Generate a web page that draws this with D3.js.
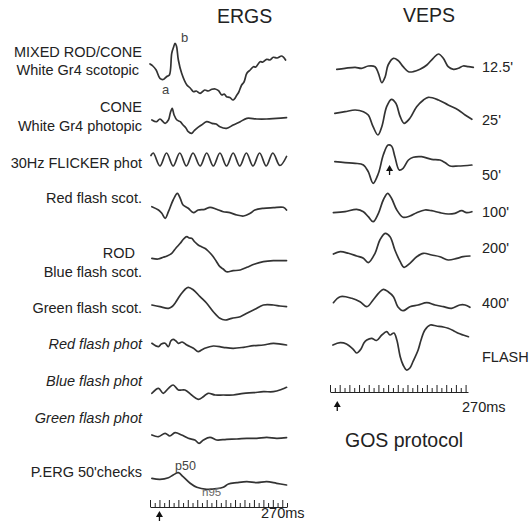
<!DOCTYPE html>
<html><head><meta charset="utf-8">
<script src="https://cdn.jsdelivr.net/npm/d3@7/dist/d3.min.js"></script>
<style>
html,body{margin:0;padding:0;background:#fff;}
svg{display:block;font-family:"Liberation Sans",Arial,Helvetica,sans-serif;}
</style></head>
<body>
<svg id="chart" width="530" height="521"></svg>
<script>
// ---------- DATA: [time ms, amplitude] ----------
const ergMixed = [[-20,0],[-14,-2],[-7,-6],[1,-14.3],[8,-15.5],[15,-12.7],[21,-11],[26,10.7],[30,17],[33,20.7],[36,18],[40,4],[47,-9.3],[58,-21],[65,-24],[72,-27.7],[78,-27],[86,-29.3],[96,-26],[103,-27],[111,-25.3],[118,-25],[125,-26.7],[132,-31],[137,-30],[142,-32.7],[149,-33.5],[156,-36],[164,-31],[168,-28],[174,-21],[179,-18],[185,-9.3],[192,-6],[199,-2.7],[204,-3],[213,2.3],[219,2],[227,4.7],[234,4],[241,6.7],[249,6],[259,8],[267,4]];
const ergCone = [[-16,0],[-6,-1.7],[1,1],[12,-3.3],[19,0],[23,7],[27,11.7],[31,5],[37,0],[44,-1.7],[50,-5],[56,-8],[61,-11.7],[68,-13.3],[73,-11],[79,-8.3],[89,-5],[100,-1.7],[111,-3.3],[120,-4],[128,-6.7],[142,-8.3],[156,-5],[171,-1.7],[185,1.7],[206,1],[227,1],[248,1.7],[269,2.3]];
const ergFlicker = [[-18,4],[-13,6.5],[1,-6.5],[15,6.5],[29,-6.5],[43,6.5],[57,-6.5],[71,6.5],[86,-6.5],[100,6.5],[114,-6.5],[128,6.5],[142,-6.5],[156,6.5],[170,-6.5],[184,6.5],[198,-6.5],[212,6.5],[226,-6.5],[240,6.5],[255,-6],[269,3]];
const ergRedScot = [[-16,0.3],[-2,-3],[5,-6.3],[12,-11.3],[19,-4.7],[29,7],[38,13.7],[44,8.7],[50,2],[61,-1.3],[72,-5.7],[82,-3],[96,-2.3],[107,-0.3],[121,-2.3],[135,-4.7],[149,-5.7],[164,-8],[178,-9],[192,-6.3],[202,-3],[220,-1.3],[241,-0.7],[262,-0.3],[269,-3]];
const ergBlueScot = [[-16,-0.3],[-3,-1],[8,0.7],[16,2],[26,4.7],[35,10],[44,14.7],[51,19],[58,21.3],[63,20],[68,19.7],[75,16],[82,13],[90,11],[96,9.7],[103,7],[111,3],[120,-3],[128,-8.7],[135,-11],[142,-13.7],[156,-12.7],[171,-12],[185,-9.3],[202,-6],[220,-3.7],[241,-2.7],[269,-2.7]];
const ergGreenScot = [[-16,1],[1,-0.7],[19,-2.3],[27,-0.5],[33,2.7],[40,8],[47,12.7],[54,16.5],[61,18.7],[72,16],[86,9.3],[100,2.7],[114,-5.7],[128,-12.3],[139,-14],[153,-12.3],[171,-10.7],[185,-7.3],[202,-3.3],[220,1],[241,1],[255,0],[269,-0.7]];
const ergRedPhot = [[-16,0.7],[-2,-2.7],[4,0],[12,0.7],[19,-2.7],[24,3],[29,4.7],[35,3],[40,0.7],[48,2],[58,-1],[72,-4.3],[82,-7.7],[89,-6],[96,-4.3],[114,-2],[135,-3.3],[156,-4.3],[178,-3.3],[199,-1.7],[220,-1],[241,0.7],[269,-1]];
const ergBluePhot = [[-16,-1.3],[-2,3.7],[8,-1.3],[19,3.7],[29,7],[40,2],[54,2],[68,-3],[82,-7.3],[93,-4.7],[103,-1.3],[118,-3],[135,-3],[156,-3],[178,-1.3],[199,-0.7],[220,0.3],[241,0.3],[259,2.7],[269,4.7]];
const ergGreenPhot = [[-16,1],[-2,-0.7],[12,2.7],[22,0],[33,3.3],[47,1],[61,-2.3],[75,-4],[84,-7.3],[93,-4],[107,-1.3],[121,-4],[142,-3.3],[164,-3],[185,-2.3],[206,-2.3],[227,-1.3],[248,-2.3],[269,-1.7]];
const ergPerg = [[-16,0.2],[1,-0.8],[19,0.8],[29,3.5],[40,5.8],[50,1.8],[65,-4.8],[79,-8.8],[100,-10.8],[121,-10.2],[135,-8.8],[146,-5.5],[164,-4.2],[185,-3.2],[206,-4.2],[227,-3.2],[248,-4.8],[269,-6.5]];

const vep125 = [[-1,-1.3],[16,-0.3],[37,0.7],[50,-0.3],[64,2],[78,1.3],[85,-5.3],[92,-14.7],[99,-8.7],[105,3],[116,9.7],[126,7.3],[136,1.3],[147,-3.7],[157,-3.7],[171,-1.3],[185,3],[198,9.7],[209,14],[219,9.7],[229,1.3],[240,-1.3],[250,-0.3],[260,2],[271,1.3],[281,0.7]];
const vep25 = [[-5,-1.3],[16,0.3],[37,2],[54,0.3],[64,-3],[74,-14.7],[84,-23],[92,-14.7],[102,5.3],[112,12.7],[121,8.7],[130,-4.7],[138,-11.3],[150,-6.3],[164,5.3],[178,12],[188,14.7],[209,12],[229,7],[250,2],[264,-3],[278,-7.3]];
const vep50 = [[-5,1.3],[16,0.3],[37,-0.3],[54,-2],[64,-8.7],[74,-20.3],[85,-10.3],[95,8],[105,18],[112,17],[119,6.3],[128,-7],[136,-5.3],[147,3],[157,5.7],[174,6.3],[195,3.7],[212,3],[223,0.3],[233,-3],[250,-3],[278,-2]];
const vep100 = [[-8,-0.7],[16,0.3],[40,2.7],[54,0.3],[64,-4.7],[74,-9.7],[85,-1.3],[95,12],[104,18.7],[112,13.7],[123,2],[136,-5.3],[150,-4],[164,-0.7],[181,2],[195,1.3],[212,-0.7],[229,-2],[243,-1.3],[257,1.3],[267,-0.7],[278,0.3]];
const vep200 = [[-8,0],[6,2.3],[23,0.7],[40,-2],[54,-4.3],[64,-8.7],[78,0.7],[88,14],[99,20.7],[109,17.3],[119,4],[130,-7.7],[138,-13.3],[150,-9.3],[164,-2.7],[178,0.7],[195,-1],[212,-2.7],[229,-6],[247,-4.3],[260,-2.7],[274,-2]];
const vep400 = [[-8,-0.7],[6,5.3],[30,3.7],[47,0.3],[61,-4.7],[74,2],[85,8.7],[95,12.7],[105,10.3],[116,5.3],[125,-4.7],[136,-8.7],[150,-4.7],[167,-3],[185,-0.7],[202,-3],[219,-4.7],[236,-6.3],[253,-3],[264,-3],[274,-5.3]];
const vepFlash = [[-9,-1],[6,1.3],[19,0],[33,-5.3],[40,-9],[49,-5],[55,1],[61,4],[71,5.7],[81,3.5],[92,9],[102,12.3],[109,9],[117,11],[123,4],[130,-12.7],[136,-21],[143,-26],[150,-24],[156,-18],[167,-6],[173,4],[181,14],[192,19],[205,18],[219,17],[229,15.7],[240,13.3],[250,10.7],[260,9],[271,7.3]];

const ergSeries = [ergMixed, ergCone, ergFlicker, ergRedScot, ergBlueScot, ergGreenScot, ergRedPhot, ergBluePhot, ergGreenPhot, ergPerg];
const vepSeries = [vep125, vep25, vep50, vep100, vep200, vep400, vepFlash];

const ergLabels = [
  ["MIXED ROD/CONE", "White Gr4 scotopic"],
  ["CONE", "White Gr4 photopic"],
  ["30Hz FLICKER phot"],
  ["Red flash scot."],
  ["ROD", "Blue flash scot."],
  ["Green flash scot."],
  ["Red flash phot"],
  ["Blue flash phot"],
  ["Green flash phot"],
  ["P.ERG 50'checks"]
];
const ergItalic = [false,false,false,false,false,false,true,true,true,false];
const vepLabels = ["12.5'", "25'", "50'", "100'", "200'", "400'", "FLASH"];
const ergDomain = [-20, 270];
const vepDomain = [-15, 270];
const axisEndLabel = "270ms";

// ---------- LAYOUT ----------
const svg = d3.select("#chart");
const ink = "#222";
const trace = "#333";

const xErg = d3.scaleLinear().domain(ergDomain).range([150, 287]);
const xVep = d3.scaleLinear().domain(vepDomain).range([330, 468]);
const yAmp = d3.scaleLinear().domain([-10, 10]).range([10, -10]);

const ergRowY = [64, 120, 159.5, 207, 258, 306, 344, 392, 436, 478.5];
const vepRowY = [68, 112, 163, 212, 254, 302, 344];

function drawTraces(series, rowY, x) {
  series.forEach((d, i) => {
    const line = d3.line().curve(d3.curveCatmullRom.alpha(0.5))
      .x(p => x(p[0])).y(p => rowY[i] + yAmp(p[1]));
    svg.append("path").attr("d", line(d)).attr("fill", "none")
      .attr("stroke", trace).attr("stroke-width", 1.7)
      .attr("stroke-linejoin", "round").attr("stroke-linecap", "round");
  });
}
drawTraces(ergSeries, ergRowY, xErg);
drawTraces(vepSeries, vepRowY, xVep);

// Titles
const title = (t, x, y) => svg.append("text").attr("x", x).attr("y", y).text(t)
  .attr("font-size", 19.5).attr("fill", ink);
title("ERGS", 217, 23);
title("VEPS", 403, 22);
title("GOS protocol", 345, 447);

// ERG left labels
const ergLabelPos = [
  [[142, 57], [139, 75]],
  [[142, 112], [142, 131]],
  [[142, 168]],
  [[142, 203]],
  [[135, 258], [142, 277]],
  [[142, 313]],
  [[142, 349]],
  [[142, 386]],
  [[142, 423]],
  [[142, 477]]
];
ergLabels.forEach((lines, i) => {
  lines.forEach((s, j) => {
    svg.append("text").attr("x", ergLabelPos[i][j][0]).attr("y", ergLabelPos[i][j][1])
      .attr("text-anchor", "end").attr("font-size", 14.5).attr("fill", ink)
      .attr("font-style", ergItalic[i] ? "italic" : "normal").text(s);
  });
});

// VEP right labels
const vepLabelY = [72, 125, 180, 217, 253, 308, 362];
vepLabels.forEach((s, i) => {
  svg.append("text").attr("x", 482).attr("y", vepLabelY[i])
    .attr("font-size", 14.5).attr("fill", ink).text(s);
});

// Wave annotations
const note = (t, x, y, fs, col) => svg.append("text").attr("x", x).attr("y", y)
  .attr("font-size", fs).attr("fill", col).text(t);
note("a", 162, 94, 13, "#444");
note("b", 181, 42, 13, "#444");
note("p50", 175, 470, 12.5, "#444");
note("n95", 202, 496, 11.5, "#666");

// Time axes
function arrow(ax, top) {
  svg.append("path")
    .attr("d", `M${ax},${top} L${ax - 3.5},${top + 6} L${ax + 3.5},${top + 6} Z`)
    .attr("fill", "#111");
  svg.append("line").attr("x1", ax).attr("x2", ax)
    .attr("y1", top + 5).attr("y2", top + 10)
    .attr("stroke", "#111").attr("stroke-width", 1.3);
}
function drawAxis(x, y, arrowTop) {
  const dom = x.domain();
  const ticks = d3.range(dom[0], dom[1] + 0.1, 10);
  const g = svg.append("g").attr("transform", `translate(0,${y})`)
    .call(d3.axisTop(x).tickValues(ticks).tickSize(4).tickSizeOuter(0).tickFormat(""));
  g.select(".domain").attr("stroke", ink).attr("stroke-width", 1.2);
  g.selectAll(".tick line").attr("stroke", ink).attr("stroke-width", 1)
    .attr("y2", (d, i) => i % 2 === 0 ? -7 : -4);
  arrow(x(0), arrowTop);
}
drawAxis(xErg, 507, 511);
drawAxis(xVep, 392, 401);

// 50' P100 marker arrow
arrow(xVep(108), 165);

note(axisEndLabel, 261, 518, 14.5, ink);
note(axisEndLabel, 462, 412, 14.5, ink);
</script>
</body></html>
